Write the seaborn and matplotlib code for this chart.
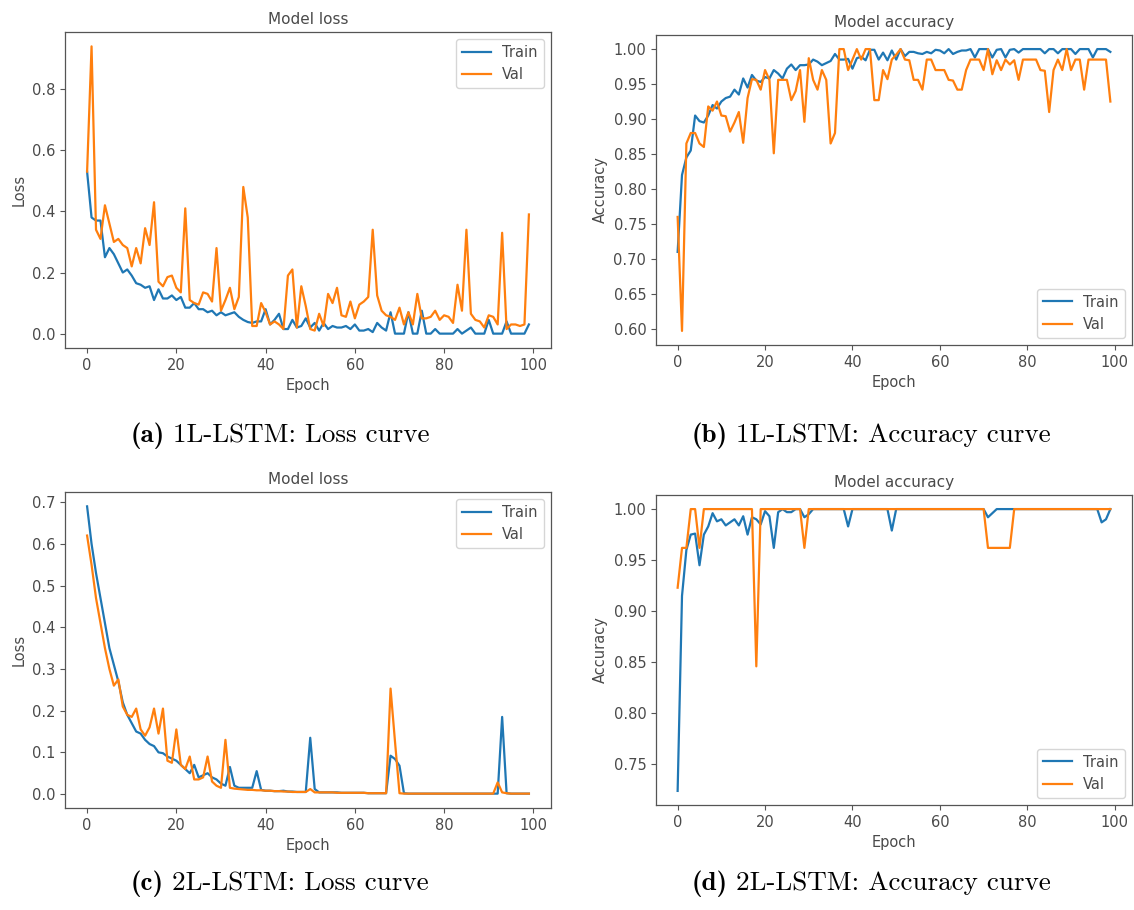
import matplotlib
matplotlib.use("Agg")
import matplotlib.pyplot as plt
import seaborn as sns
import pandas as pd
from matplotlib.offsetbox import TextArea, HPacker, AnnotationBbox

epochs = list(range(100))

loss1_train = [0.53, 0.38, 0.37, 0.37, 0.25, 0.28, 0.26, 0.23, 0.20, 0.21,
               0.19, 0.165, 0.16, 0.15, 0.155, 0.11, 0.145, 0.115, 0.115, 0.125,
               0.11, 0.12, 0.085, 0.085, 0.10, 0.08, 0.08, 0.07, 0.075, 0.06,
               0.07, 0.06, 0.065, 0.07, 0.055, 0.045, 0.038, 0.035, 0.04, 0.04,
               0.08, 0.03, 0.045, 0.065, 0.015, 0.015, 0.045, 0.02, 0.025, 0.05,
               0.02, 0.035, 0.01, 0.035, 0.015, 0.025, 0.02, 0.02, 0.025, 0.015,
               0.03, 0.01, 0.01, 0.015, 0.005, 0.035, 0.02, 0.01, 0.07, 0.0,
               0.0, 0.0, 0.07, 0.0, 0.0, 0.075, 0.0, 0.0, 0.015, 0.0,
               0.0, 0.0, 0.0, 0.015, 0.0, 0.01, 0.02, 0.0, 0.0, 0.0,
               0.045, 0.0, 0.0, 0.0, 0.04, 0.0, 0.0, 0.0, 0.0, 0.03]
loss1_val = [0.53, 0.94, 0.34, 0.31, 0.42, 0.36, 0.30, 0.31, 0.29, 0.28,
             0.22, 0.28, 0.23, 0.345, 0.29, 0.43, 0.17, 0.155, 0.185, 0.19,
             0.15, 0.135, 0.41, 0.11, 0.10, 0.095, 0.135, 0.13, 0.105, 0.28,
             0.075, 0.11, 0.15, 0.08, 0.12, 0.48, 0.38, 0.025, 0.025, 0.10,
             0.07, 0.03, 0.04, 0.03, 0.015, 0.19, 0.21, 0.02, 0.155, 0.09,
             0.015, 0.01, 0.065, 0.025, 0.13, 0.10, 0.15, 0.06, 0.055, 0.105,
             0.05, 0.095, 0.105, 0.12, 0.34, 0.125, 0.075, 0.06, 0.055, 0.045,
             0.085, 0.03, 0.07, 0.03, 0.13, 0.05, 0.05, 0.055, 0.075, 0.045,
             0.06, 0.055, 0.035, 0.16, 0.075, 0.34, 0.065, 0.045, 0.04, 0.02,
             0.06, 0.055, 0.03, 0.33, 0.015, 0.03, 0.03, 0.025, 0.03, 0.39]

acc1_train = [0.71, 0.82, 0.845, 0.855, 0.905, 0.897, 0.895, 0.905, 0.92, 0.915,
              0.925, 0.93, 0.932, 0.942, 0.935, 0.958, 0.945, 0.963, 0.955, 0.953,
              0.96, 0.958, 0.97, 0.965, 0.958, 0.972, 0.978, 0.97, 0.977, 0.977,
              0.978, 0.985, 0.982, 0.977, 0.98, 0.983, 0.993, 0.985, 0.985, 0.986,
              0.972, 0.987, 0.989, 0.984, 0.999, 0.999, 0.985, 0.995, 0.984, 0.998,
              0.985, 1.0, 0.99, 0.996, 0.996, 0.994, 0.993, 0.996, 0.994, 0.999,
              0.998, 0.994, 1.0, 0.993, 0.996, 0.998, 0.998, 1.0, 0.988, 1.0,
              1.0, 1.0, 0.988, 0.999, 1.0, 0.988, 0.999, 1.0, 0.995, 1.0,
              1.0, 1.0, 1.0, 1.0, 0.994, 1.0, 1.0, 0.994, 1.0, 1.0,
              1.0, 0.993, 1.0, 1.0, 1.0, 0.988, 1.0, 1.0, 1.0, 0.996]
acc1_val = [0.76, 0.597, 0.865, 0.88, 0.88, 0.865, 0.86, 0.918, 0.912, 0.925,
            0.905, 0.904, 0.882, 0.895, 0.91, 0.866, 0.93, 0.957, 0.956, 0.942,
            0.97, 0.956, 0.851, 0.956, 0.956, 0.956, 0.927, 0.94, 0.97, 0.896,
            0.987, 0.956, 0.942, 0.97, 0.956, 0.865, 0.88, 1.0, 1.0, 0.97,
            0.985, 1.0, 0.985, 1.0, 1.0, 0.927, 0.927, 0.97, 0.957, 0.985,
            0.992, 1.0, 0.985, 0.984, 0.956, 0.956, 0.942, 0.985, 0.985, 0.97,
            0.97, 0.97, 0.956, 0.955, 0.942, 0.942, 0.97, 0.985, 0.985, 0.985,
            0.97, 1.0, 0.964, 0.984, 0.97, 0.985, 0.978, 0.984, 0.956, 0.985,
            0.985, 0.985, 0.985, 0.97, 0.969, 0.91, 0.97, 0.985, 0.97, 1.0,
            0.97, 0.985, 0.985, 0.942, 0.985, 0.985, 0.985, 0.985, 0.985, 0.925]

loss2_train = [0.69, 0.60, 0.53, 0.47, 0.41, 0.35, 0.31, 0.27, 0.22, 0.19,
               0.17, 0.15, 0.145, 0.13, 0.12, 0.115, 0.10, 0.098, 0.09, 0.085,
               0.08, 0.07, 0.06, 0.05, 0.07, 0.04, 0.045, 0.05, 0.04, 0.035,
               0.025, 0.02, 0.065, 0.02, 0.015, 0.015, 0.015, 0.015, 0.055, 0.01,
               0.008, 0.008, 0.007, 0.007, 0.008, 0.006, 0.006, 0.005, 0.005, 0.005,
               0.135, 0.012, 0.004, 0.004, 0.004, 0.004, 0.004, 0.003, 0.003, 0.003,
               0.003, 0.003, 0.003, 0.002, 0.002, 0.002, 0.002, 0.002, 0.092, 0.084,
               0.068, 0.002, 0.001, 0.001, 0.001, 0.001, 0.001, 0.001, 0.001, 0.001,
               0.001, 0.001, 0.001, 0.001, 0.001, 0.001, 0.001, 0.001, 0.001, 0.001,
               0.001, 0.001, 0.001, 0.185, 0.002, 0.001, 0.001, 0.001, 0.001, 0.001]
loss2_val = [0.62, 0.55, 0.47, 0.41, 0.35, 0.30, 0.26, 0.275, 0.21, 0.19,
             0.185, 0.205, 0.155, 0.14, 0.16, 0.205, 0.145, 0.205, 0.08, 0.075,
             0.155, 0.07, 0.06, 0.09, 0.035, 0.035, 0.04, 0.09, 0.03, 0.02,
             0.015, 0.13, 0.015, 0.013, 0.012, 0.011, 0.01, 0.01, 0.009, 0.009,
             0.008, 0.008, 0.007, 0.007, 0.006, 0.006, 0.005, 0.005, 0.005, 0.005,
             0.012, 0.004, 0.004, 0.004, 0.004, 0.004, 0.003, 0.003, 0.003, 0.003,
             0.003, 0.003, 0.003, 0.002, 0.002, 0.002, 0.002, 0.002, 0.253, 0.125,
             0.002, 0.001, 0.001, 0.001, 0.001, 0.001, 0.001, 0.001, 0.001, 0.001,
             0.001, 0.001, 0.001, 0.001, 0.001, 0.001, 0.001, 0.001, 0.001, 0.001,
             0.001, 0.001, 0.028, 0.004, 0.002, 0.001, 0.001, 0.001, 0.001, 0.001]

acc2_train = [0.724, 0.915, 0.96, 0.975, 0.976, 0.945, 0.975, 0.983, 0.996, 0.988,
              0.99, 0.984, 0.987, 0.99, 0.984, 0.993, 0.975, 0.992, 0.99, 0.985,
              0.998, 0.993, 0.962, 0.997, 1.0, 0.997, 0.997, 1.0, 1.0, 0.992,
              0.995, 1.0, 1.0, 1.0, 1.0, 1.0, 1.0, 1.0, 1.0, 0.983,
              1.0, 1.0, 1.0, 1.0, 1.0, 1.0, 1.0, 1.0, 1.0, 0.979,
              1.0, 1.0, 1.0, 1.0, 1.0, 1.0, 1.0, 1.0, 1.0, 1.0,
              1.0, 1.0, 1.0, 1.0, 1.0, 1.0, 1.0, 1.0, 1.0, 1.0,
              1.0, 0.992, 0.996, 1.0, 1.0, 1.0, 1.0, 1.0, 1.0, 1.0,
              1.0, 1.0, 1.0, 1.0, 1.0, 1.0, 1.0, 1.0, 1.0, 1.0,
              1.0, 1.0, 1.0, 1.0, 1.0, 1.0, 1.0, 0.987, 0.99, 1.0]
acc2_val = [0.923, 0.962, 0.962, 1.0, 1.0, 0.962, 1.0, 1.0, 1.0, 1.0,
            1.0, 1.0, 1.0, 1.0, 1.0, 1.0, 1.0, 1.0, 0.846, 1.0,
            1.0, 1.0, 1.0, 1.0, 1.0, 1.0, 1.0, 1.0, 1.0, 0.962,
            1.0, 1.0, 1.0, 1.0, 1.0, 1.0, 1.0, 1.0, 1.0, 1.0,
            1.0, 1.0, 1.0, 1.0, 1.0, 1.0, 1.0, 1.0, 1.0, 1.0,
            1.0, 1.0, 1.0, 1.0, 1.0, 1.0, 1.0, 1.0, 1.0, 1.0,
            1.0, 1.0, 1.0, 1.0, 1.0, 1.0, 1.0, 1.0, 1.0, 1.0,
            1.0, 0.962, 0.962, 0.962, 0.962, 0.962, 0.962, 1.0, 1.0, 1.0,
            1.0, 1.0, 1.0, 1.0, 1.0, 1.0, 1.0, 1.0, 1.0, 1.0,
            1.0, 1.0, 1.0, 1.0, 1.0, 1.0, 1.0, 1.0, 1.0, 1.0]

series_names = ["Train", "Val"]
panel_titles = ["Model loss", "Model accuracy", "Model loss", "Model accuracy"]
panel_ylabels = ["Loss", "Accuracy", "Loss", "Accuracy"]
panel_tags = ["(a)", "(b)", "(c)", "(d)"]
panel_captions = ["1L-LSTM: Loss curve", "1L-LSTM: Accuracy curve",
                  "2L-LSTM: Loss curve", "2L-LSTM: Accuracy curve"]

TEXT = "#4a4a4a"
plt.rcParams.update({
    "text.color": TEXT, "axes.labelcolor": TEXT,
    "xtick.color": "#555555", "ytick.color": "#555555",
    "xtick.labelcolor": TEXT, "ytick.labelcolor": TEXT,
    "axes.edgecolor": "#555555", "font.size": 10.5,
})

fig = plt.figure(figsize=(11.34, 9.10), dpi=100)
W, H = 1134.0, 910.0
boxes = [(65, 32, 551, 348), (656, 35, 1132, 345),
         (65, 492, 551, 808), (656, 495, 1132, 805)]
data_pairs = [(loss1_train, loss1_val), (acc1_train, acc1_val),
              (loss2_train, loss2_val), (acc2_train, acc2_val)]
legend_locs = ["upper right", "lower right", "upper right", "lower right"]
palette = ["#1f77b4", "#ff7f0e"]

for i in range(4):
    x0, y0, x1, y1 = boxes[i]
    ax = fig.add_axes([x0 / W, 1 - y1 / H, (x1 - x0) / W, (y1 - y0) / H])
    tr, va = data_pairs[i]
    df = pd.DataFrame({
        "Epoch": epochs + epochs,
        "value": tr + va,
        "series": [series_names[0]] * len(tr) + [series_names[1]] * len(va),
    })
    sns.lineplot(data=df, x="Epoch", y="value", hue="series", palette=palette,
                 linewidth=1.6, ax=ax)
    ax.set_title(panel_titles[i], fontsize=11, color=TEXT)
    ax.set_xlabel("Epoch", fontsize=10.5)
    ax.set_ylabel(panel_ylabels[i], fontsize=10.5)
    ax.set_xticks([0, 20, 40, 60, 80, 100])
    ax.tick_params(labelsize=10.5)
    h, l = ax.get_legend_handles_labels()
    ax.legend(h, l, loc=legend_locs[i], fontsize=10.5, title=None)
    for s in ax.spines.values():
        s.set_linewidth(0.9)

caption_y = [436, 436, 884, 884]
caption_x = [280, 871, 280, 871]
for i in range(4):
    box = HPacker(children=[
        TextArea(panel_tags[i], textprops=dict(family="cmb10", size=19.5, color="black")),
        TextArea(panel_captions[i], textprops=dict(family="cmr10", size=19.5, color="black")),
    ], pad=0, sep=6, align="baseline")
    ab = AnnotationBbox(box, (caption_x[i] / W, 1 - caption_y[i] / H),
                        xycoords="figure fraction", frameon=False,
                        box_alignment=(0.5, 0.5))
    fig.add_artist(ab)

fig.savefig("out.png", dpi=100)
